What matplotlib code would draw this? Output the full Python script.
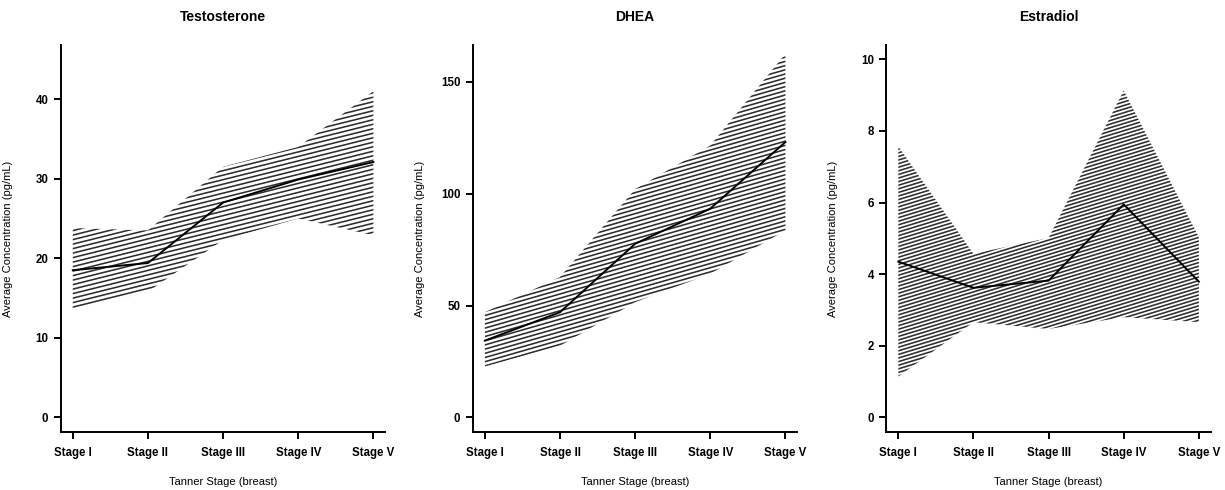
import numpy as np
import matplotlib
matplotlib.use("Agg")
import matplotlib.pyplot as plt
from matplotlib.collections import LineCollection
from matplotlib.transforms import IdentityTransform

plt.rcParams['font.family'] = ['Liberation Sans', 'DejaVu Sans']

stages = ["Stage I", "Stage II", "Stage III", "Stage IV", "Stage V"]

# Testosterone (pg/mL)
testo_mean = [18.5, 19.4, 27.0, 29.9, 32.1]
testo_upper = [23.8, 23.5, 31.5, 34.0, 41.0]
testo_lower = [13.5, 15.8, 22.3, 25.0, 22.9]

# DHEA (pg/mL)
dhea_mean = [34.3, 47.0, 77.6, 93.3, 123.1]
dhea_upper = [47.0, 62.7, 102.0, 121.5, 162.5]
dhea_lower = [22.7, 32.0, 51.5, 64.2, 83.6]

# Estradiol (pg/mL)
estra_mean = [4.35, 3.62, 3.82, 5.95, 3.79]
estra_upper = [7.57, 4.57, 5.01, 9.13, 5.03]
estra_lower = [1.14, 2.66, 2.47, 2.80, 2.66]

panels = [
    ("Testosterone", testo_mean, testo_lower, testo_upper, 45, [0, 10, 20, 30, 40], 14, 4.5),
    ("DHEA", dhea_mean, dhea_lower, dhea_upper, 160, [0, 50, 100, 150], 16, 4.2),
    ("Estradiol", estra_mean, estra_lower, estra_upper, 10, [0, 2, 4, 6, 8, 10], 17, 3.6),
]

fig = plt.figure(figsize=(12.25, 4.9), dpi=100)
lefts = [0.0496, 0.386, 0.7235]


def hatch(ax, x, lo, hi, angle, spacing):
    # invisible band, used only as clip path for the shading lines
    band = ax.fill_between(x, lo, hi, facecolor='none', edgecolor='none')
    bb = ax.get_window_extent()
    slope = np.tan(np.radians(angle))
    rise = slope * bb.width
    segs = []
    for c in np.arange(bb.y0 - rise, bb.y1 + spacing, spacing):
        segs.append([(bb.x0, c), (bb.x1, c + rise)])
    lc = LineCollection(segs, colors='#2e2e2e', linewidths=1.15,
                        transform=IdentityTransform())
    ax.add_collection(lc, autolim=False)
    lc.set_clip_path(band.get_paths()[0], ax.transData)


x = np.arange(1, 6)
for i, (title, mean, lo, hi, ytop, yticks, ang, sp) in enumerate(panels):
    ax = fig.add_axes([lefts[i], 0.119, 0.265, 0.789])
    ax.set_xlim(1 - 0.16, 5 + 0.16)
    ax.set_ylim(-0.04 * ytop, 1.04 * ytop)
    hatch(ax, x, lo, hi, ang, sp)
    ax.plot(x, mean, color='black', lw=1.4, zorder=3)

    ax.set_xticks(x)
    ax.set_xticklabels(stages)
    ax.set_yticks(yticks)
    for s in ['top', 'right']:
        ax.spines[s].set_visible(False)
    for s in ['left', 'bottom']:
        ax.spines[s].set_linewidth(1.4)
    ax.tick_params(axis='both', direction='out', length=5, width=1.4,
                   labelsize=8.3)
    ax.tick_params(axis='x', pad=6)
    ax.tick_params(axis='y', pad=4)
    for lab in ax.get_xticklabels() + ax.get_yticklabels():
        lab.set_fontweight('bold')

    ax.set_title(title, fontsize=10, fontweight='bold', pad=17)
    ax.set_xlabel("Tanner Stage (breast)", fontsize=8)
    ax.set_ylabel("Average Concentration (pg/mL)", fontsize=8)
    ax.xaxis.set_label_coords(0.5, -0.117)
    ax.yaxis.set_label_coords(-0.148, 0.5)

fig.savefig("out.png", dpi=100)
